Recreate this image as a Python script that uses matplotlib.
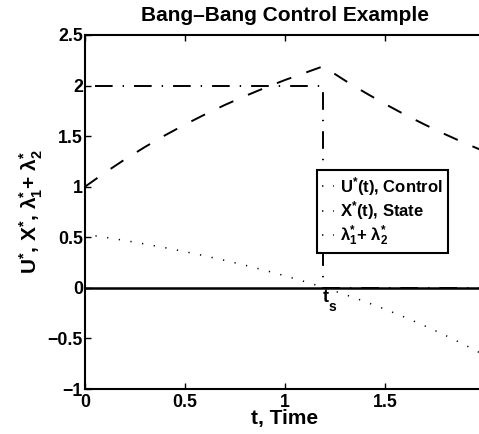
import matplotlib
matplotlib.use('Agg')
import matplotlib.pyplot as plt
from matplotlib.lines import Line2D

plt.rcParams['font.family'] = ['Liberation Sans', 'DejaVu Sans']
plt.rcParams['font.weight'] = 'bold'
plt.rcParams['mathtext.fontset'] = 'custom'
plt.rcParams['mathtext.rm'] = 'Liberation Sans'
plt.rcParams['mathtext.bf'] = 'Liberation Sans:bold'
plt.rcParams['mathtext.it'] = 'Liberation Sans:italic'
plt.rcParams['mathtext.default'] = 'bf'
plt.rcParams['lines.scale_dashes'] = False

# ---- data ----
t_switch = 1.19

t_control = [0.0, 1.19, 1.19, 2.0]
u_control = [2.0, 2.0, 0.0, 0.0]

t_state = [0.0, 0.1, 0.2, 0.3, 0.4, 0.5, 0.6, 0.7, 0.8, 0.9, 1.0, 1.1, 1.19,
           1.3, 1.4, 1.5, 1.6, 1.7, 1.8, 1.9, 2.0]
x_state = [1.000, 1.140, 1.271, 1.393, 1.508, 1.615, 1.715, 1.809, 1.896, 1.978,
           2.055, 2.126, 2.190, 2.050, 1.931, 1.818, 1.712, 1.613, 1.519, 1.430, 1.347]

t_costate = [0.0, 0.1, 0.2, 0.3, 0.4, 0.5, 0.6, 0.7, 0.8, 0.9, 1.0,
             1.1, 1.2, 1.3, 1.4, 1.5, 1.6, 1.7, 1.8, 1.9, 2.0]
lam_sum = [0.530, 0.500, 0.468, 0.433, 0.397, 0.358, 0.316, 0.271, 0.224, 0.173, 0.119,
           0.061, 0.000, -0.066, -0.136, -0.211, -0.291, -0.377, -0.468, -0.565, -0.669]

x_ticks = [0, 0.5, 1, 1.5, 2]
x_ticklabels = ['0', '0.5', '1', '1.5', '2']
y_ticks = [-1, -0.5, 0, 0.5, 1, 1.5, 2, 2.5]
y_ticklabels = ['\u22121', '\u22120.5', '0', '0.5', '1', '1.5', '2', '2.5']

labels = [r'U$^{*}$(t), Control', r'X$^{*}$(t), State',
          r'$\mathrm{\lambda}_{1}^{*}$+ $\mathrm{\lambda}_{2}^{*}$']

# ---- styles ----
ls_dashdot = (20.9, (12.7, 7.2, 1.0, 7.2))
ls_dashed = (0, (11.0, 11.5))
ls_dotted = (0.9, (0.9, 7.6))

fig = plt.figure(figsize=(4.79, 4.34), dpi=100)
ax = fig.add_axes([85 / 479, 45 / 434, 400 / 479, 354 / 434])

ax.axhline(0, color='k', lw=1.8, zorder=1)
ax.plot(t_control, u_control, color='k', lw=1.4, linestyle=ls_dashdot, zorder=2)
ax.plot(t_state, x_state, color='k', lw=1.4, linestyle=ls_dashed, zorder=2)
ax.plot(t_costate, lam_sum, color='k', lw=1.1, linestyle=ls_dotted,
        dash_capstyle='butt', zorder=2)

ax.set_xlim(0, 2)
ax.set_ylim(-1, 2.5)
ax.set_xticks(x_ticks)
ax.set_xticklabels(x_ticklabels)
ax.set_yticks(y_ticks)
ax.set_yticklabels(y_ticklabels)
ax.tick_params(direction='in', length=4, width=1.0, top=True, right=True,
               labelsize=12.8)
ax.tick_params(axis='x', pad=3.5)
ax.tick_params(axis='y', pad=1.5)
for sp in ax.spines.values():
    sp.set_linewidth(1.5)

ax.set_title('Bang\u2013Bang Control Example', fontsize=15, fontweight='bold', pad=10)
ax.set_xlabel('t, Time', fontsize=15, fontweight='bold', labelpad=-1)
ax.set_ylabel(r'U$^{*}$, X$^{*}$, $\mathrm{\lambda}_{1}^{*}$+ $\mathrm{\lambda}_{2}^{*}$',
              fontsize=15, fontweight='bold', labelpad=2)

ax.text(t_switch, -0.14, 't', fontsize=13, fontweight='bold', ha='left', va='baseline')
ax.text(t_switch + 0.03, -0.228, 's', fontsize=10, fontweight='bold', ha='left', va='baseline')

handles = [Line2D([0], [0], color='k', lw=1.1, linestyle=(0, (1, 7)), dash_capstyle='butt')
           for _ in labels]
leg = ax.legend(handles, labels, loc='upper left', bbox_to_anchor=(0.58, 0.619),
                borderaxespad=0, handlelength=0.72, handletextpad=0.35,
                borderpad=0.3, labelspacing=0.1, fancybox=False, framealpha=1,
                edgecolor='k', prop={'weight': 'bold', 'size': 12})
leg.get_frame().set_linewidth(1.5)

fig.savefig('out.png', dpi=100)
